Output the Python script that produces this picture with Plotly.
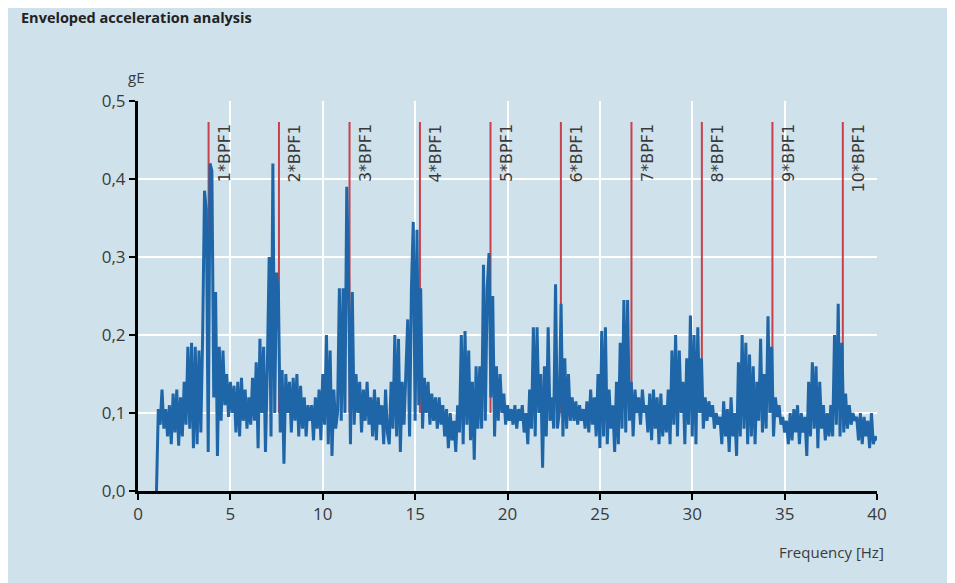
import plotly.graph_objects as go

# ---------------- data ----------------
FREQ_START = 1.0   # Hz
FREQ_STEP = 0.1    # Hz

amplitude_gE = [
    # 1.0 - 1.9
    0.0, 0.105, 0.085, 0.13, 0.08, 0.105, 0.07, 0.11, 0.06, 0.125,
    # 2.0 - 2.9
    0.075, 0.13, 0.058, 0.12, 0.07, 0.14, 0.085, 0.185, 0.08, 0.19,
    # 3.0 - 3.9
    0.055, 0.185, 0.06, 0.18, 0.075, 0.2, 0.385, 0.36, 0.05, 0.42,
    # 4.0 - 4.9
    0.41, 0.12, 0.255, 0.045, 0.185, 0.09, 0.18, 0.11, 0.15, 0.095,
    # 5.0 - 5.9
    0.14, 0.1, 0.135, 0.075, 0.14, 0.07, 0.145, 0.09, 0.13, 0.08,
    # 6.0 - 6.9
    0.12, 0.085, 0.145, 0.09, 0.165, 0.055, 0.195, 0.1, 0.185, 0.05,
    # 7.0 - 7.9
    0.16, 0.3, 0.07, 0.42, 0.1, 0.28, 0.255, 0.075, 0.155, 0.035,
    # 8.0 - 8.9
    0.15, 0.1, 0.14, 0.075, 0.145, 0.09, 0.15, 0.07, 0.135, 0.08,
    # 9.0 - 9.9
    0.12, 0.07, 0.11, 0.09, 0.11, 0.065, 0.12, 0.08, 0.13, 0.065,
    # 10.0 - 10.9
    0.15, 0.085, 0.2, 0.06, 0.18, 0.045, 0.13, 0.08, 0.1, 0.26,
    # 11.0 - 11.9
    0.09, 0.26, 0.1, 0.39, 0.27, 0.06, 0.255, 0.085, 0.15, 0.1,
    # 12.0 - 12.9
    0.14, 0.075, 0.13, 0.09, 0.14, 0.085, 0.12, 0.07, 0.13, 0.065,
    # 13.0 - 13.9
    0.12, 0.085, 0.11, 0.06, 0.13, 0.075, 0.06, 0.14, 0.08, 0.2,
    # 14.0 - 14.9
    0.07, 0.195, 0.05, 0.14, 0.085, 0.15, 0.22, 0.07, 0.26, 0.345,
    # 15.0 - 15.9
    0.09, 0.335, 0.11, 0.26, 0.08, 0.145, 0.1, 0.14, 0.085, 0.125,
    # 16.0 - 16.9
    0.09, 0.12, 0.08, 0.12, 0.085, 0.11, 0.07, 0.105, 0.055, 0.1,
    # 17.0 - 17.9
    0.065, 0.09, 0.05, 0.11, 0.075, 0.2, 0.06, 0.205, 0.085, 0.18,
    # 18.0 - 18.9
    0.065, 0.14, 0.04, 0.16, 0.08, 0.16, 0.08, 0.29, 0.09, 0.26,
    # 19.0 - 19.9
    0.305, 0.12, 0.25, 0.07, 0.16, 0.09, 0.15, 0.1, 0.125, 0.085,
    # 20.0 - 20.9
    0.11, 0.09, 0.105, 0.085, 0.11, 0.08, 0.105, 0.09, 0.11, 0.075,
    # 21.0 - 21.9
    0.1, 0.06, 0.13, 0.08, 0.21, 0.07, 0.21, 0.1, 0.15, 0.03,
    # 22.0 - 22.9
    0.16, 0.07, 0.21, 0.09, 0.12, 0.08, 0.265, 0.08, 0.1, 0.24,
    # 23.0 - 23.9
    0.07, 0.17, 0.08, 0.15, 0.09, 0.12, 0.09, 0.115, 0.085, 0.11,
    # 24.0 - 24.9
    0.09, 0.105, 0.08, 0.115, 0.075, 0.13, 0.085, 0.12, 0.07, 0.15,
    # 25.0 - 25.9
    0.055, 0.205, 0.07, 0.21, 0.06, 0.13, 0.08, 0.11, 0.05, 0.14,
    # 26.0 - 26.9
    0.06, 0.19, 0.08, 0.245, 0.075, 0.245, 0.09, 0.14, 0.07, 0.13,
    # 27.0 - 27.9
    0.1, 0.12, 0.085, 0.13, 0.1, 0.11, 0.075, 0.125, 0.065, 0.13,
    # 28.0 - 28.9
    0.08, 0.12, 0.06, 0.125, 0.07, 0.11, 0.075, 0.13, 0.06, 0.18,
    # 29.0 - 29.9
    0.085, 0.2, 0.07, 0.18, 0.1, 0.14, 0.06, 0.17, 0.085, 0.225,
    # 30.0 - 30.9
    0.07, 0.2, 0.06, 0.21, 0.1, 0.17, 0.08, 0.12, 0.09, 0.115,
    # 31.0 - 31.9
    0.095, 0.11, 0.08, 0.1, 0.085, 0.095, 0.06, 0.115, 0.07, 0.105,
    # 32.0 - 32.9
    0.05, 0.12, 0.07, 0.1, 0.045, 0.165, 0.07, 0.2, 0.08, 0.19,
    # 33.0 - 33.9
    0.06, 0.175, 0.07, 0.16, 0.06, 0.14, 0.09, 0.195, 0.075, 0.15,
    # 34.0 - 34.9
    0.08, 0.224, 0.1, 0.185, 0.07, 0.12, 0.095, 0.11, 0.085, 0.095,
    # 35.0 - 35.9
    0.075, 0.09, 0.06, 0.1, 0.065, 0.105, 0.075, 0.11, 0.06, 0.1,
    # 36.0 - 36.9
    0.075, 0.095, 0.045, 0.14, 0.07, 0.165, 0.08, 0.16, 0.055, 0.14,
    # 37.0 - 37.9
    0.08, 0.11, 0.065, 0.1, 0.07, 0.11, 0.07, 0.2, 0.085, 0.24,
    # 38.0 - 38.9
    0.07, 0.19, 0.075, 0.125, 0.08, 0.11, 0.085, 0.1, 0.09, 0.095,
    # 39.0 - 40.0
    0.065, 0.1, 0.06, 0.095, 0.07, 0.09, 0.055, 0.1, 0.06, 0.07,
    0.065,
]

bpf_positions = [3.82, 7.63, 11.45, 15.26, 19.08, 22.89, 26.71, 30.52, 34.34, 38.15]
bpf_labels = ["1*BPF1", "2*BPF1", "3*BPF1", "4*BPF1", "5*BPF1",
              "6*BPF1", "7*BPF1", "8*BPF1", "9*BPF1", "10*BPF1"]
bpf_line_bottom = 0.1
bpf_line_top = 0.473

x_ticks = [0, 5, 10, 15, 20, 25, 30, 35, 40]
y_ticks = [0.0, 0.1, 0.2, 0.3, 0.4, 0.5]

frequency_hz = [round(FREQ_START + FREQ_STEP * i, 2) for i in range(len(amplitude_gE))]

# ---------------- style ----------------
BG = "#cfe1eb"
BLUE = "#1f66a8"
RED = "#c8404a"
TEXT = "#3a3a3a"

fig = go.Figure()

# red harmonic markers (behind spectrum)
for xpos in bpf_positions:
    fig.add_trace(go.Scatter(
        x=[xpos, xpos], y=[bpf_line_bottom, bpf_line_top],
        mode="lines", line=dict(color=RED, width=2),
        hoverinfo="skip", showlegend=False))

fig.add_trace(go.Scatter(
    x=frequency_hz, y=amplitude_gE, mode="lines",
    line=dict(color=BLUE, width=3), showlegend=False))

for xpos, lab in zip(bpf_positions, bpf_labels):
    fig.add_annotation(
        x=xpos, y=bpf_line_top, xref="x", yref="y",
        text=lab, textangle=-90, showarrow=False,
        xanchor="left", yanchor="top", xshift=4,
        font=dict(family="DejaVu Sans", size=16, color=TEXT))

fig.add_annotation(
    x=0, y=1, xref="paper", yref="paper", text="gE", showarrow=False,
    xanchor="left", yanchor="middle", yshift=24, xshift=-12,
    font=dict(family="Open Sans", size=15, color=TEXT))

fig.add_annotation(
    x=1, y=0, xref="paper", yref="paper", text="Frequency [Hz]",
    showarrow=False, xanchor="right", yanchor="middle", yshift=-61, xshift=9,
    font=dict(family="Open Sans", size=15, color=TEXT))

fig.add_annotation(
    x=0, y=1, xref="paper", yref="paper",
    text="<b>Enveloped acceleration analysis</b>", showarrow=False,
    xanchor="left", yanchor="middle", xshift=-119, yshift=84,
    font=dict(family="Open Sans", size=14.5, color="#222222"))

fig.update_layout(
    width=955, height=583,
    margin=dict(l=130, r=86, t=93, b=100),
    paper_bgcolor=BG, plot_bgcolor=BG,
    separators=",.",
    font=dict(family="Open Sans", color=TEXT),
)

fig.update_xaxes(
    range=[0, 40], tickvals=x_ticks, showgrid=True, gridcolor="white",
    gridwidth=1.5, zeroline=False, showline=True, linecolor="black",
    linewidth=3, ticks="outside", tickcolor="black", ticklen=6, tickwidth=2,
    tickfont=dict(size=17, color=TEXT, family="Open Sans"))

fig.update_yaxes(
    range=[0, 0.5], tickvals=y_ticks, tickformat=".1f", showgrid=True,
    gridcolor="white", gridwidth=1.5, zeroline=False, showline=True,
    linecolor="black", linewidth=3, ticks="outside", tickcolor="black",
    ticklen=6, tickwidth=2,
    tickfont=dict(size=17, color=TEXT, family="Open Sans"))

fig.write_html("out.html")
